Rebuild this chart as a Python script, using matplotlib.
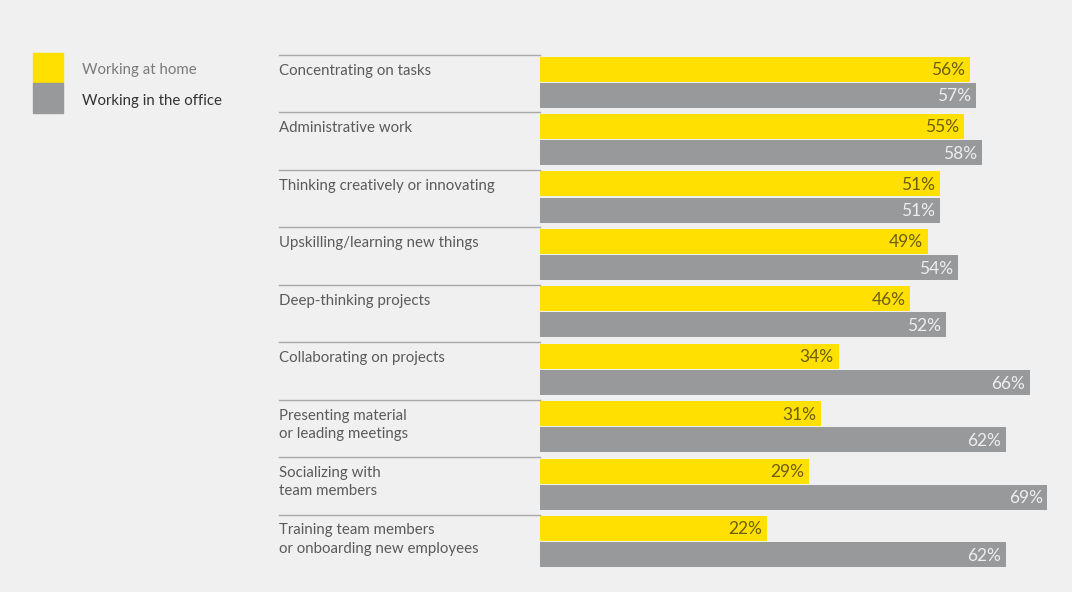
import matplotlib.pyplot as plt
from matplotlib.transforms import blended_transform_factory
from matplotlib.patches import Rectangle
import numpy as np

categories = [
    "Concentrating on tasks",
    "Administrative work",
    "Thinking creatively or innovating",
    "Upskilling/learning new things",
    "Deep-thinking projects",
    "Collaborating on projects",
    "Presenting material\nor leading meetings",
    "Socializing with\nteam members",
    "Training team members\nor onboarding new employees",
]
home = [56, 55, 51, 49, 46, 34, 31, 29, 22]
office = [57, 58, 51, 54, 52, 66, 62, 69, 62]
series_names = ["Working at home", "Working in the office"]

YELLOW = "#ffe000"
GRAY = "#98999b"
BG = "#f0f0f0"
BASE = 16  # bars in the original carry a constant extra length
PX_PER_UNIT = 5.97

plt.rcParams['font.family'] = ['Lato', 'DejaVu Sans']

W, H = 1072, 592
fig = plt.figure(figsize=(W / 100, H / 100), dpi=100, facecolor=BG)

# bar axes: pixel x 540..1072, pixel y 55..572
ax = fig.add_axes([540 / W, 1 - 572 / H, 532 / W, 517 / H])
ax.set_facecolor(BG)
ax.set_xlim(0, 532 / PX_PER_UNIT)
ax.set_ylim(9, 0)
ax.axis('off')

y = np.arange(len(categories))
bh = 0.435
ax.barh(y + 0.244, np.array(home) + BASE, height=bh, color=YELLOW)
ax.barh(y + 0.70, np.array(office) + BASE, height=bh, color=GRAY)

for i in range(len(categories)):
    ax.text(home[i] + BASE - 0.8, i + 0.26, f"{home[i]}%", ha='right', va='center',
            fontsize=12.5, color="#6b5e10")
    ax.text(office[i] + BASE - 0.8, i + 0.72, f"{office[i]}%", ha='right', va='center',
            fontsize=12.5, color="#eeeeee")

# category labels and separators left of the bars
tr = blended_transform_factory(fig.transFigure, ax.transData)
for i, cat in enumerate(categories):
    ax.plot([279 / W, 540 / W], [i, i], transform=tr, color="#a8a8a8", lw=1, clip_on=False)
    ax.text(279 / W, i + 0.155, cat, transform=tr, ha='left', va='top', fontsize=10.8,
            color="#5a5a5a", linespacing=1.4, clip_on=False)

# legend
fig.patches.append(Rectangle((33 / W, 1 - 83 / H), 30 / W, 30 / H, transform=fig.transFigure,
                             color=YELLOW))
fig.patches.append(Rectangle((33 / W, 1 - 113 / H), 30 / W, 30 / H, transform=fig.transFigure,
                             color=GRAY))
fig.text(82 / W, 1 - 70 / H, series_names[0], ha='left', va='center', fontsize=10.8, color="#7a7a7a")
fig.text(82 / W, 1 - 101 / H, series_names[1], ha='left', va='center', fontsize=10.8, color="#333333")

fig.savefig("out.png", dpi=100, facecolor=BG)
